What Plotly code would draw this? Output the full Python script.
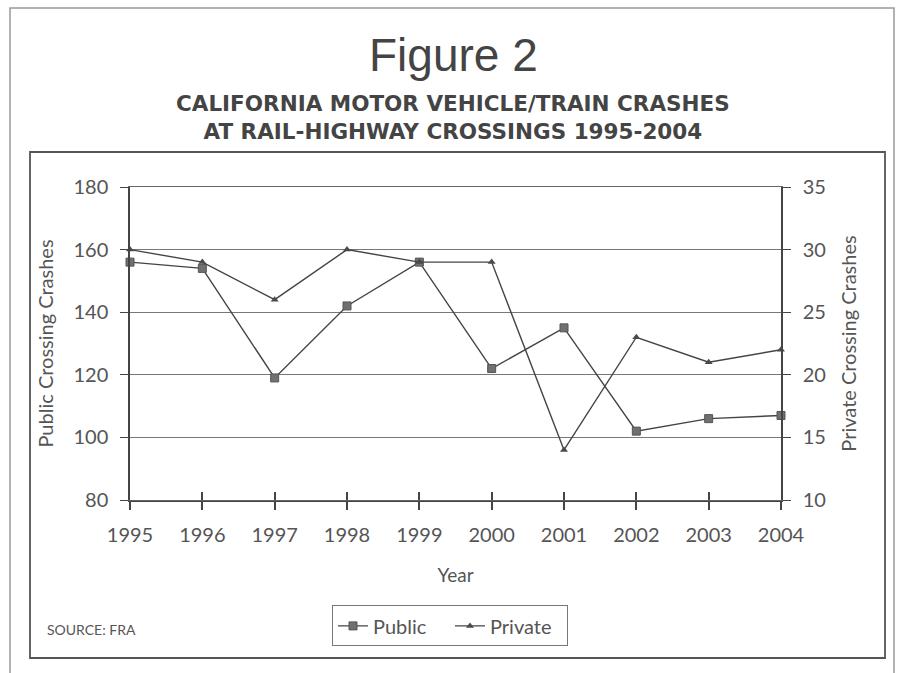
import plotly.graph_objects as go

years = [1995, 1996, 1997, 1998, 1999, 2000, 2001, 2002, 2003, 2004]
public = [156, 154, 119, 142, 156, 122, 135, 102, 106, 107]
private = [30, 29, 26, 30, 29, 29, 14, 23, 21, 22]

line_col = "#444444"
text_col = "#555555"
font_fam = "Lato, 'Open Sans', sans-serif"

fig = go.Figure()
fig.add_trace(go.Scatter(
    x=years, y=public, name="Public", mode="lines+markers",
    line=dict(color=line_col, width=1.4),
    marker=dict(symbol="square", size=8, color="#707070", line=dict(color="#555555", width=1)),
    cliponaxis=False, yaxis="y"))
fig.add_trace(go.Scatter(
    x=years, y=private, name="Private", mode="lines+markers",
    line=dict(color=line_col, width=1.4),
    marker=dict(symbol="triangle-up", size=7, color="#4a4a4a"),
    cliponaxis=False, yaxis="y2"))

fig.update_layout(
    width=900, height=673,
    paper_bgcolor="white", plot_bgcolor="white",
    margin=dict(l=130, r=119, t=187, b=173),
    font=dict(family=font_fam, color=text_col, size=20),
    showlegend=True,
    legend=dict(orientation="h", x=0.5, xanchor="center", xref="container",
                y=0.07, yanchor="middle", yref="container",
                bordercolor="#777777", borderwidth=1,
                font=dict(size=20, color=text_col), itemwidth=30,
                entrywidth=72, entrywidthmode="pixels",
                tracegroupgap=0),
    xaxis=dict(range=[1995, 2004], tickvals=years, ticktext=[str(y) for y in years],
               showgrid=False, zeroline=False, showline=True, linecolor=line_col,
               linewidth=2, ticks="outside", ticklen=8, tickcolor=line_col, tickwidth=1.5,
               ticklabelstandoff=8,
               tickfont=dict(size=20, color=text_col),
               title=dict(text="Year", font=dict(size=19, color=text_col), standoff=24)),
    xaxis2=dict(range=[1995, 2004], tickvals=years, overlaying="x", matches="x",
                showgrid=False, zeroline=False, showline=True, mirror=True,
                linecolor="#666666", linewidth=1, showticklabels=False,
                ticks="inside", ticklen=8, tickcolor=line_col, tickwidth=1.5),
    yaxis=dict(range=[80, 180], dtick=20, showgrid=True, gridcolor="#777777", gridwidth=1,
               zeroline=False, showline=True, linecolor=line_col, linewidth=1.5,
               ticks="outside", ticklen=8, tickcolor=line_col, ticklabelstandoff=8,
               tickfont=dict(size=20, color=text_col),
               title=dict(text="Public Crossing Crashes", font=dict(size=20, color=text_col), standoff=14)),
    yaxis2=dict(range=[10, 35], dtick=5, overlaying="y", side="right", showgrid=False,
                zeroline=False, showline=True, linecolor=line_col, linewidth=1.5,
                ticks="outside", ticklen=8, tickcolor=line_col, ticklabelstandoff=8,
                tickfont=dict(size=20, color=text_col),
                title=dict(text="Private Crossing Crashes", font=dict(size=20, color=text_col), standoff=17)),
)

# invisible trace to activate the overlaid x-axis (crossing tick marks)
fig.add_trace(go.Scatter(x=[years[0]], y=[public[0]], xaxis="x2", yaxis="y",
                         mode="markers", marker=dict(opacity=0), showlegend=False,
                         hoverinfo="skip"))

W, H = 900, 673
pl, pr, pt, pb = 130, 900 - 119, 187, 673 - 173
pw, ph = pr - pl, pb - pt
def px(x):
    return (x - pl) / pw
def py(y):
    return (pb - y) / ph

fig.add_shape(type="rect", xref="paper", yref="paper",
              x0=px(10), x1=px(894), y0=py(8), y1=py(676),
              line=dict(color="#999999", width=1.5), layer="below")
fig.add_shape(type="rect", xref="paper", yref="paper",
              x0=px(30), x1=px(885), y0=py(152), y1=py(658),
              line=dict(color="#555555", width=1.8), layer="below")

fig.add_annotation(text="Figure 2", xref="paper", yref="paper", x=px(453), y=py(55),
                   xanchor="center", yanchor="middle",
                   showarrow=False, font=dict(family="Liberation Sans, Arial, sans-serif",
                                              size=46, color="#444444"))
fig.add_annotation(text="<b>CALIFORNIA MOTOR VEHICLE/TRAIN CRASHES<br>AT RAIL-HIGHWAY CROSSINGS 1995-2004</b>",
                   xref="paper", yref="paper", x=px(453), y=py(117),
                   xanchor="center", yanchor="middle",
                   showarrow=False, font=dict(family="DejaVu Sans, sans-serif", size=21.5, color="#444444"),
                   align="center")
fig.add_annotation(text="SOURCE: FRA", xref="paper", yref="paper", x=px(45), y=py(629),
                   xanchor="left", yanchor="middle", showarrow=False,
                   font=dict(family=font_fam, size=14, color=text_col))

fig.write_html("out.html", post_script="document.body.style.margin='0';",
               config={"displayModeBar": False})
